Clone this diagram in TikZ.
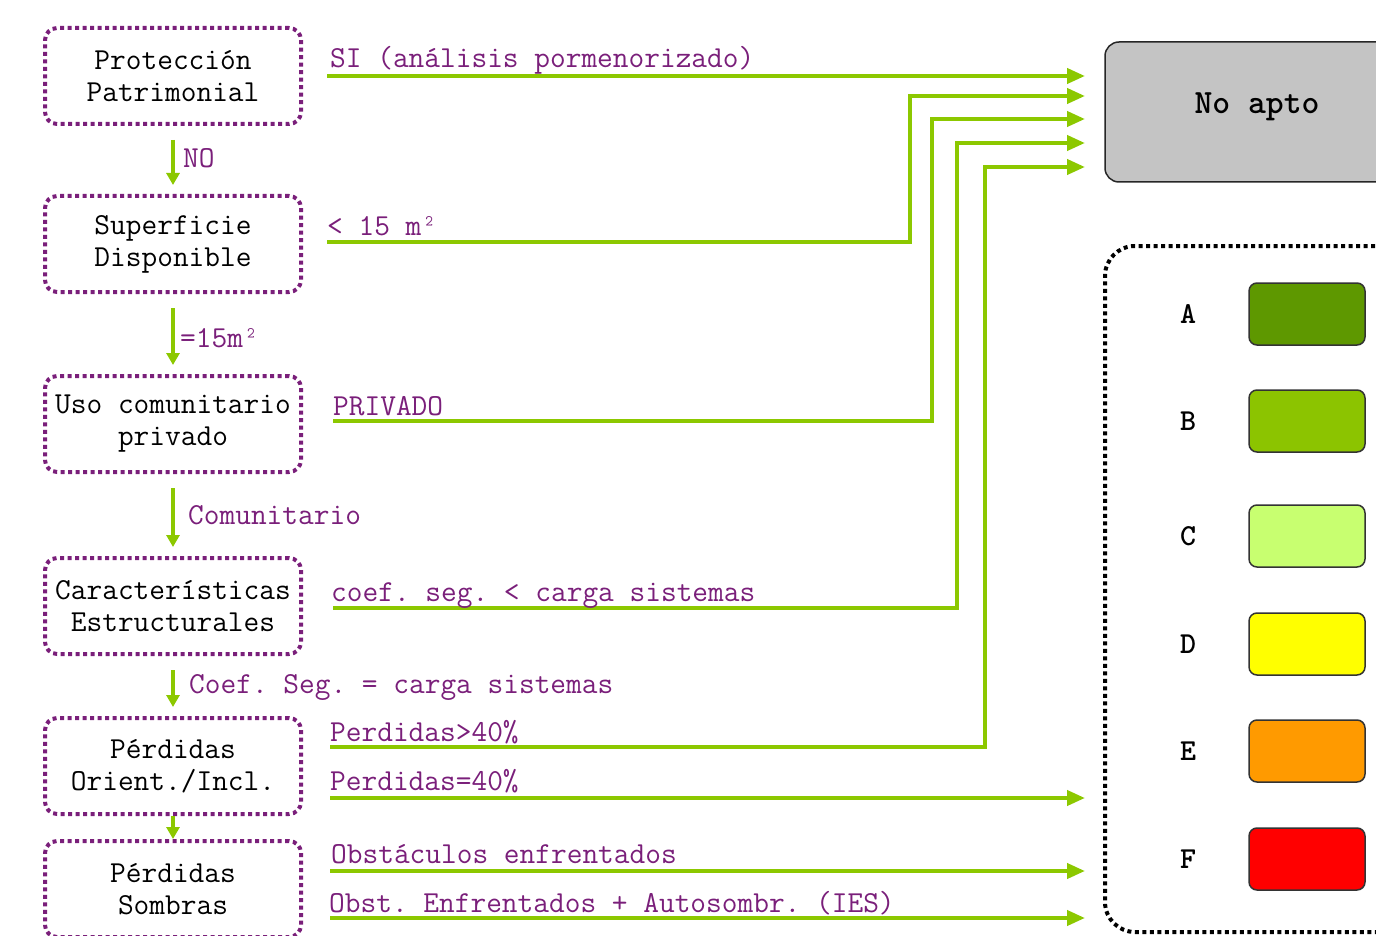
\documentclass[tikz,border=0pt]{standalone}
\usepackage{fontspec}
\usetikzlibrary{arrows.meta}
\frenchspacing

\definecolor{lima}{HTML}{8CC800}
\definecolor{morado}{HTML}{7A1F7A}
\definecolor{gris}{HTML}{C4C4C4}
\definecolor{catA}{HTML}{5E9800}
\definecolor{catB}{HTML}{8CC400}
\definecolor{catC}{HTML}{C8FF70}
\definecolor{catD}{HTML}{FFFF00}
\definecolor{catE}{HTML}{FF9A00}
\definecolor{catF}{HTML}{FF0000}

\begin{document}
\begin{tikzpicture}[x=1pt,y=-1pt,
    every node/.style={font=\ttfamily\fontsize{30.5}{32}\selectfont},
    paso/.style={draw=morado, line width=4pt, dash pattern=on 4pt off 3.5pt,
        rounded corners=12pt, minimum width=256pt, minimum height=96pt,
        align=center, inner sep=0pt},
    flecha/.style={draw=lima, line width=4pt, -{Triangle[length=18pt,width=15pt]}},
    bajada/.style={draw=lima, line width=4pt, -{Triangle[length=12pt,width=13pt]},
        shorten <=14pt, shorten >=9pt},
    etiq/.style={text=morado, anchor=base west, inner sep=0pt},
    letra/.style={font=\ttfamily\fontsize{30.5}{32}\selectfont\bfseries},
    muestra/.style={draw=black!80, line width=1.5pt, rounded corners=8pt,
        minimum width=116pt, minimum height=62pt},
]
\useasboundingbox (0,0) rectangle (1376,936);

% pasos del proceso
\node[paso] (prot) at (173,76)  {Protección\\Patrimonial};
\node[paso] (sup)  at (173,244) {Superficie\\Disponible};
\node[paso] (uso)  at (173,424) {Uso comunitario\\privado};
\node[paso] (est)  at (173,606) {Características\\Estructurales};
\node[paso] (ori)  at (173,766) {Pérdidas\\Orient./Incl.};
\node[paso] (som)  at (173,889) {Pérdidas\\Sombras};

% resultado no apto y leyenda
\node[draw=black!85, line width=1.5pt, fill=gris, rounded corners=14pt,
    minimum width=300pt, minimum height=140pt] (noapto) at (1255,112) {};
\node[letra, font=\ttfamily\fontsize{34}{36}\selectfont\bfseries] (noaptotxt) at (1257,107) {No apto};
\draw[line width=4pt, dash pattern=on 4pt off 3.5pt, rounded corners=30pt]
    (1420,246) -- (1105,246) -- (1105,932) -- (1420,932);
\foreach \l/\y in {A/314,B/421,C/536,D/644,E/751,F/859}{
    \node[letra] (l\l) at (1188,\y) {\l};
    \node[muestra, fill=cat\l] (m\l) at (1307,\y) {};
}

% bajadas
\draw[bajada] (prot.south) -- (sup.north);
\node[etiq] (tno) at (183,168) {NO};
\draw[bajada] (sup.south) -- (uso.north);
\node[etiq] (t15) at (180,347) {=15m²};
\draw[bajada] (uso.south) -- (est.north);
\node[etiq] (tcom) at (188,524) {Comunitario};
\draw[bajada] (est.south) -- (ori.north);
\node[etiq] (tcoef) at (189,693) {Coef. Seg. = carga sistemas};
\draw[bajada, shorten <=0pt, shorten >=0pt] (ori.south) -- (som.north);

% salidas
\coordinate (s1) at (327,76);  \coordinate (e1) at (1085,76);
\coordinate (s2) at (327,242); \coordinate (e2) at (1085,96);
\coordinate (s3) at (333,421); \coordinate (e3) at (1085,119);
\coordinate (s4) at (333,608); \coordinate (e4) at (1085,143);
\coordinate (s5) at (330,747); \coordinate (e5) at (1085,167);
\coordinate (s6) at (330,798); \coordinate (e6) at (1085,798);
\coordinate (s7) at (330,871); \coordinate (e7) at (1085,871);
\coordinate (s8) at (330,918); \coordinate (e8) at (1085,918);

\draw[flecha] (s1) -- (e1);
\draw[flecha] (s2) -- ++(583,0) |- (e2);
\draw[flecha] (s3) -- ++(599,0) |- (e3);
\draw[flecha] (s4) -- ++(624,0) |- (e4);
\draw[flecha] (s5) -- ++(655,0) |- (e5);
\draw[flecha] (s6) -- (e6);
\draw[flecha] (s7) -- (e7);
\draw[flecha] (s8) -- (e8);

\node[etiq] (tsi)   at (330,68)  {SI (análisis pormenorizado)};
\node[etiq] (tmen)  at (327,236) {< 15 m²};
\node[etiq] (tpriv) at (333,415) {PRIVADO};
\node[etiq] (tcarg) at (331,601) {coef. seg. < carga sistemas};
\node[etiq] (tp40)  at (330,741) {Perdidas>40\%};
\node[etiq] (tp40b) at (330,790) {Perdidas=40\%};
\node[etiq] (tobs)  at (331,863) {Obstáculos enfrentados};
\node[etiq] (tobsb) at (329,912) {Obst. Enfrentados + Autosombr. (IES)};
\end{tikzpicture}
\end{document}
